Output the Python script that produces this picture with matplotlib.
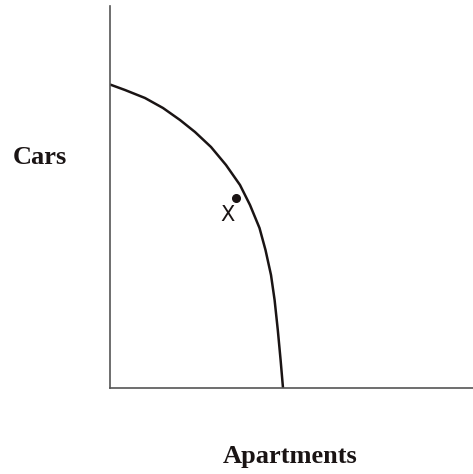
import matplotlib.pyplot as plt

# frontier (axes units = pixels from the origin)
apartments = [0, 15, 35, 53, 70, 85, 101, 116, 130, 140, 149.5, 155.5, 161, 164.6, 167.8, 170.6, 173]
cars = [303.5, 298, 290, 280, 268, 256, 241, 223, 203, 183, 160, 138, 113, 88, 58, 28, 0]
point_x = [126]
point_y = [190]

fig = plt.figure(figsize=(4.73, 4.74), dpi=100, facecolor='w')
ax = fig.add_axes([110 / 473, 86 / 474, 363 / 473, 382 / 474])
ax.set_xlim(0, 363)
ax.set_ylim(0, 382)

ax.plot(apartments, cars, color='#1a1414', lw=1.8, solid_capstyle='butt',
        solid_joinstyle='round')
ax.plot(point_x, point_y, 'o', color='#1a1414', ms=5.5)
ax.text(point_x[0] - 9, point_y[0] - 17, 'X', ha='center', va='center',
        fontsize=15, family='DejaVu Sans', color='#1a1414')

for s in ['top', 'right']:
    ax.spines[s].set_visible(False)
for s in ['left', 'bottom']:
    ax.spines[s].set_color('#555555')
    ax.spines[s].set_linewidth(1.2)
ax.set_xticks([])
ax.set_yticks([])

fig.text(40 / 473, 1 - 157 / 474, 'Cars', ha='center', va='center',
         fontsize=19, fontweight='bold', family='Liberation Serif', color='#1a1414')
fig.text(290 / 473, 1 - 457 / 474, 'Apartments', ha='center', va='center',
         fontsize=19, fontweight='bold', family='Liberation Serif', color='#1a1414')

fig.savefig('out.png', dpi=100)
